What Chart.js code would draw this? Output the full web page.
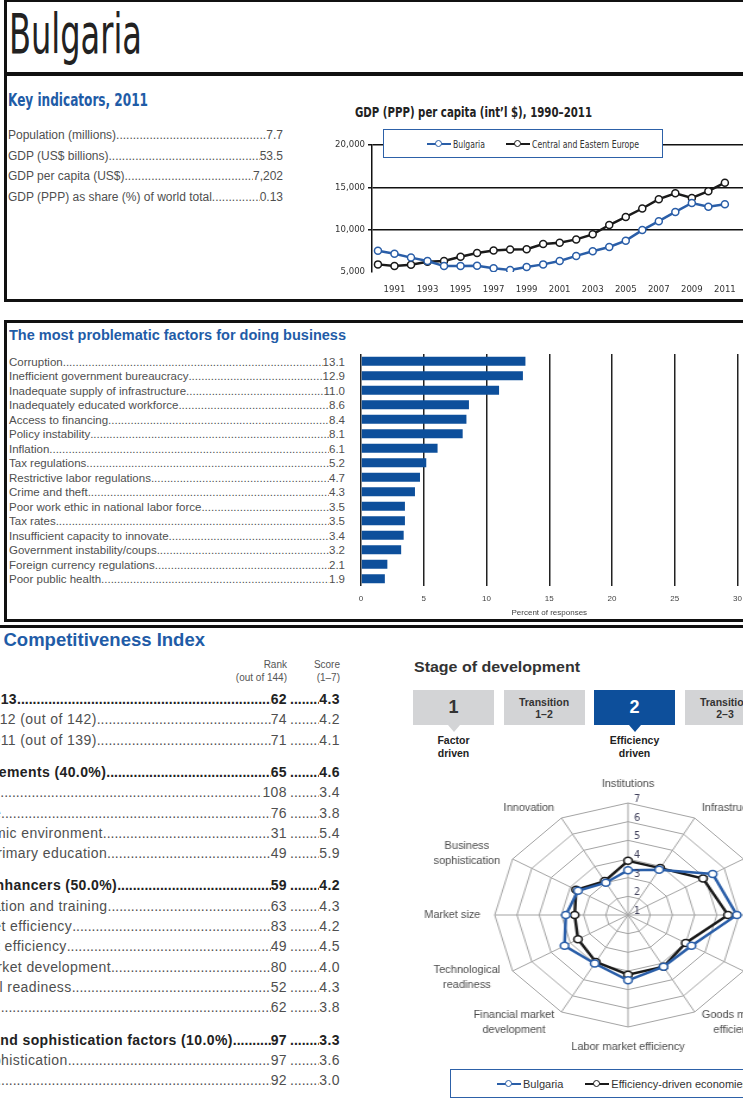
<!DOCTYPE html>
<html lang="en">
<head>
<meta charset="utf-8">
<title>Bulgaria</title>
<script src="https://cdn.jsdelivr.net/npm/chart.js@4.4.1/dist/chart.umd.min.js"></script>
<style>
  html, body { margin: 0; padding: 0; }
  body {
    position: relative; width: 743px; height: 1110px; overflow: hidden; background: #fff;
    font-family: "Liberation Sans", Arial, sans-serif; color: #4f4f4f;
  }
  .abs { position: absolute; }
  .narrow { font-family: "Liberation Sans Narrow", "DejaVu Sans Condensed", "Liberation Sans", sans-serif; }
  .fit { display: inline-block; white-space: nowrap; transform-origin: 0 50%; }
  .blue { color: #1f5ca7; font-weight: bold; }
  .frame { position: absolute; border: 3px solid #111; box-sizing: border-box; }
  .row { position: absolute; display: flex; align-items: baseline; white-space: nowrap; }
  .dots { flex: 1 1 0; min-width: 0; overflow: hidden; white-space: nowrap; letter-spacing: 0; }
  .legend { position: absolute; border: 1.5px solid #2d61a8; background: #fff; box-sizing: border-box;
            display: flex; align-items: center; white-space: nowrap; color: #333; z-index: 2; }
  .mk { display: inline-block; position: relative; width: 24px; height: 8px; margin-right: 2px; }
  .mk::before { content: ''; position: absolute; left: 0; right: 0; top: 3px; height: 2px; background: currentColor; }
  .mk::after { content: ''; position: absolute; left: 8px; top: 0; width: 5px; height: 5px;
               border: 1.5px solid currentColor; border-radius: 50%; background: #fff; }
  .stage { position: absolute; top: 690px; width: 81px; height: 35px; background: #d3d4d6; color: #333;
           display: flex; align-items: center; justify-content: center; text-align: center; font-weight: bold; }
  .tri { position: absolute; top: 725px; width: 0; height: 0;
         border-left: 6px solid transparent; border-right: 6px solid transparent; border-top: 7px solid #d3d4d6; }
  .stagename { position: absolute; top: 734px; width: 90px; text-align: center; font-weight: bold;
               font-size: 10.5px; line-height: 13px; color: #222; }
</style>
</head>
<body>

<!-- frames -->
<div class="frame" style="left:4px; top:-1px; width:800px; height:303px;"></div>
<div class="abs" style="left:5px; top:72px; width:800px; height:4px; background:#111;"></div>
<div class="frame" style="left:4px; top:320px; width:800px; height:302px;"></div>
<div class="abs" style="left:-10px; top:625px; width:800px; height:2.5px; background:#111;"></div>

<!-- country heading -->
<div class="abs" style="left:9px; top:6px; font-size:56px; line-height:56px; color:#222;">
  <span class="fit narrow" data-w="133">Bulgaria</span>
</div>

<div class="abs blue" style="left:8px; top:90px; font-size:17px; line-height:20px;">
  <span class="fit narrow" data-w="140">Key indicators, 2011</span>
</div>
<div id="keyRows"></div>

<!-- GDP chart -->
<div class="abs" style="left:355px; top:103px; font-size:14.5px; line-height:18px; color:#222; font-weight:bold;">
  <span class="fit narrow" data-w="237">GDP (PPP) per capita (int’l $), 1990–2011</span>
</div>
<div class="legend narrow" style="left:383px; top:129px; width:280px; height:29px; padding-left:43px; font-size:10.5px;">
  <span class="mk" style="color:#2a5ea8;"></span><span class="fit" data-w="32">Bulgaria</span>
  <span class="mk" style="color:#1a1a1a; margin-left:14px;"></span><span class="fit" data-w="107">Central and Eastern Europe</span>
</div>
<div class="abs" style="left:330px; top:135px; width:425px; height:175px;">
  <canvas id="gdpChart"></canvas>
</div>

<!-- problematic factors -->
<div class="abs blue" style="left:9px; top:326px; font-size:14.5px; line-height:18px;">
  <span class="fit" data-w="337">The most problematic factors for doing business</span>
</div>
<div id="factorRows"></div>
<div class="abs" style="left:350px; top:344px; width:400px; height:278px;">
  <canvas id="factorChart"></canvas>
</div>

<!-- GCI table -->
<div class="abs blue" style="right:538px; top:629px; font-size:18.5px; line-height:22px; white-space:nowrap;">
  The Global Competitiveness Index
</div>
<div class="abs" style="left:200px; top:658px; width:87px; text-align:right; font-size:10px; line-height:13px; color:#555;">
  Rank<br>(out of 144)
</div>
<div class="abs" style="left:300px; top:658px; width:40px; text-align:right; font-size:10px; line-height:13px; color:#555;">
  Score<br>(1–7)
</div>
<div id="gciRows"></div>

<!-- stage of development -->
<div class="abs" style="left:414px; top:657px; font-size:15px; line-height:20px; color:#333; font-weight:bold;">
  <span class="fit" data-w="166">Stage of development</span>
</div>
<div id="stages"></div>

<!-- pillar radar -->
<div class="abs" style="left:428px; top:765px; width:400px; height:300px; transform:scaleX(1.19); transform-origin:200px 150px;">
  <canvas id="pillarChart"></canvas>
</div>
<div class="legend" style="left:450px; top:1069px; width:400px; height:29px; padding-left:46px; font-size:11px;">
  <span class="mk" style="color:#2a5ea8;"></span><span>Bulgaria</span>
  <span class="mk" style="color:#1a1a1a; margin-left:22px;"></span><span>Efficiency-driven economies</span>
</div>

<script>
// Key indicators, 2011
const keyLabels = ['Population (millions)', 'GDP (US$ billions)', 'GDP per capita (US$)', 'GDP (PPP) as share (%) of world total'];
const keyValues = ['7.7', '53.5', '7,202', '0.13'];

// GDP (PPP) per capita, int'l $
const years = [1990, 1991, 1992, 1993, 1994, 1995, 1996, 1997, 1998, 1999, 2000,
               2001, 2002, 2003, 2004, 2005, 2006, 2007, 2008, 2009, 2010, 2011];
const bulgariaGdp = [7500, 7150, 6700, 6300, 5700, 5700, 5750, 5450, 5250, 5600, 5900,
                     6300, 6900, 7450, 7950, 8700, 9950, 11000, 12100, 13150, 12700, 13000];
const ceeGdp = [5900, 5700, 5850, 6200, 6300, 6800, 7250, 7550, 7650, 7700, 8300,
                8450, 8850, 9450, 10550, 11500, 12500, 13600, 14300, 13750, 14550, 15550];
const yearTicks = [1991, 1993, 1995, 1997, 1999, 2001, 2003, 2005, 2007, 2009, 2011];
const gdpTicks = [5000, 10000, 15000, 20000];

// Most problematic factors, percent of responses
const factorLabels = [
  'Corruption', 'Inefficient government bureaucracy', 'Inadequate supply of infrastructure',
  'Inadequately educated workforce', 'Access to financing', 'Policy instability', 'Inflation',
  'Tax regulations', 'Restrictive labor regulations', 'Crime and theft',
  'Poor work ethic in national labor force', 'Tax rates', 'Insufficient capacity to innovate',
  'Government instability/coups', 'Foreign currency regulations', 'Poor public health'
];
const factorValues = [13.1, 12.9, 11.0, 8.6, 8.4, 8.1, 6.1, 5.2, 4.7, 4.3, 3.5, 3.5, 3.4, 3.2, 2.1, 1.9];

// GCI table
const gciLabels = [
  'GCI 2012–2013', 'GCI 2011–2012 (out of 142)', 'GCI 2010–2011 (out of 139)',
  'Basic requirements (40.0%)', 'Institutions', 'Infrastructure', 'Macroeconomic environment',
  'Health and primary education',
  'Efficiency enhancers (50.0%)', 'Higher education and training', 'Goods market efficiency',
  'Labor market efficiency', 'Financial market development', 'Technological readiness', 'Market size',
  'Innovation and sophistication factors (10.0%)', 'Business sophistication', 'Innovation'
];
const gciRanks = ['62', '74', '71', '65', '108', '76', '31', '49', '59', '63', '83', '49', '80', '52', '62', '97', '97', '92'];
const gciScores = ['4.3', '4.2', '4.1', '4.6', '3.4', '3.8', '5.4', '5.9', '4.2', '4.3', '4.2', '4.5', '4.0', '4.3', '3.8', '3.3', '3.6', '3.0'];
const gciHeadRows = [0, 3, 8, 15];

// Stage of development
const stageLabels = [['1'], ['Transition', '1–2'], ['2'], ['Transition', '2–3']];
const stageNames = [['Factor', 'driven'], null, ['Efficiency', 'driven'], null];
const currentStage = 2;

// Pillar scores (1-7)
const pillarLabels = [
  ['Institutions'], ['Infrastructure'], ['Macroeconomic', 'environment'], ['Health and', 'primary education'],
  ['Higher education', 'and training'], ['Goods market', 'efficiency'], ['Labor market efficiency'],
  ['Financial market', 'development'], ['Technological', 'readiness'], ['Market size'],
  ['Business', 'sophistication'], ['Innovation']
];
const bulgariaPillars = [3.4, 3.8, 5.4, 5.9, 4.3, 4.2, 4.5, 4.0, 4.3, 3.8, 3.6, 3.0];
const efficiencyPillars = [3.9, 3.9, 4.9, 5.5, 4.0, 4.2, 4.2, 3.9, 3.6, 3.4, 3.7, 3.1];

const BLUE = '#2a5ea8';
const BLACK = '#1a1a1a';
const BAR = '#0d4f9b';
const NARROW = '"Liberation Sans Narrow", "DejaVu Sans Condensed", "Liberation Sans", sans-serif';
const STRETCH = 1.19;
const DOTS = '.'.repeat(300);

// Leader-dotted text row: label ..... value
function dottedRow(parent, opts) {
  const row = document.createElement('div');
  row.className = 'row';
  row.style.left = opts.left + 'px';
  row.style.width = opts.width + 'px';
  row.style.top = (opts.y - opts.lh / 2) + 'px';
  row.style.height = opts.lh + 'px';
  row.style.lineHeight = opts.lh + 'px';
  row.style.fontSize = opts.size + 'px';
  if (opts.spacing) row.style.letterSpacing = opts.spacing + 'px';
  if (opts.bold) { row.style.fontWeight = 'bold'; row.style.color = '#222'; }
  let html = `<span>${opts.label}</span><span class="dots">${DOTS}</span><span>${opts.value}</span>`;
  if (opts.score !== undefined) {
    html += `<span style="display:flex; width:53px; flex:0 0 53px;"><span class="dots" style="margin-left:3px;">${DOTS}</span><span>${opts.score}</span></span>`;
  }
  row.innerHTML = html;
  parent.appendChild(row);
}

const keyBox = document.getElementById('keyRows');
keyLabels.forEach((label, i) => {
  dottedRow(keyBox, { left: 8, width: 275, y: 135 + i * 20.5, lh: 16, size: 12, label, value: keyValues[i] });
});

const factorBox = document.getElementById('factorRows');
factorLabels.forEach((label, i) => {
  dottedRow(factorBox, { left: 9, width: 336, y: 362 + i * 14.47, lh: 14, size: 11.5, label, value: factorValues[i].toFixed(1) });
});

const gciBox = document.getElementById('gciRows');
let gciY = 699;
gciLabels.forEach((label, i) => {
  if (i > 0 && gciHeadRows.includes(i)) gciY += 12;
  dottedRow(gciBox, {
    left: -87, width: 427, y: gciY, lh: 18, size: 14, spacing: 0.4, bold: gciHeadRows.includes(i),
    label, value: gciRanks[i], score: gciScores[i]
  });
  gciY += 20.3;
});

// Stage boxes with pointer under the first and current stage
const stageBox = document.getElementById('stages');
stageLabels.forEach((lines, i) => {
  const x = 413 + i * 90.5;
  const box = document.createElement('div');
  box.className = 'stage';
  box.style.left = x + 'px';
  if (lines.length === 1) {
    box.style.fontSize = '18px';
  } else {
    box.style.fontSize = '10.5px';
    box.style.lineHeight = '12px';
  }
  if (i === currentStage) { box.style.background = BAR; box.style.color = '#fff'; }
  box.innerHTML = lines.join('<br>');
  stageBox.appendChild(box);
  if (stageNames[i]) {
    const tri = document.createElement('div');
    tri.className = 'tri';
    tri.style.left = (x + 34.5) + 'px';
    if (i === currentStage) tri.style.borderTopColor = BAR;
    stageBox.appendChild(tri);
    const name = document.createElement('div');
    name.className = 'stagename';
    name.style.left = (x - 4.5) + 'px';
    name.innerHTML = stageNames[i].join('<br>');
    stageBox.appendChild(name);
  }
});

// Squeeze condensed headings to their widths
document.querySelectorAll('[data-w]').forEach(el => {
  const w = el.getBoundingClientRect().width;
  if (w > 0) el.style.transform = 'scaleX(' + (parseFloat(el.dataset.w) / w) + ')';
});

Chart.defaults.font.family = NARROW;
Chart.defaults.animation = false;

// GDP per capita lines
new Chart(document.getElementById('gdpChart'), {
  type: 'line',
  data: {
    datasets: [
      {
        label: 'Bulgaria',
        data: years.map((y, i) => ({ x: y, y: bulgariaGdp[i] })),
        borderColor: BLUE, borderWidth: 2.5,
        pointRadius: 3.5, pointBorderWidth: 1.5, pointBackgroundColor: '#fff', pointBorderColor: BLUE
      },
      {
        label: 'Central and Eastern Europe',
        data: years.map((y, i) => ({ x: y, y: ceeGdp[i] })),
        borderColor: BLACK, borderWidth: 2.5,
        pointRadius: 3.5, pointBorderWidth: 1.5, pointBackgroundColor: '#fff', pointBorderColor: BLACK
      }
    ]
  },
  options: {
    responsive: true,
    maintainAspectRatio: false,
    devicePixelRatio: 1,
    layout: { padding: { top: 10, left: 0, right: 0, bottom: 0 } },
    scales: {
      x: {
        type: 'linear', min: 1989.64, max: 2012.49,
        afterBuildTicks: (s) => { s.ticks = yearTicks.map(v => ({ value: v })); },
        afterFit: (s) => { s.height = 38; },
        ticks: { callback: (v) => String(v), font: { size: 9.5 }, color: '#333', padding: 4, maxRotation: 0, autoSkip: false },
        grid: { display: false },
        border: { display: false }
      },
      y: {
        min: 5000, max: 20000,
        afterBuildTicks: (s) => { s.ticks = gdpTicks.map(v => ({ value: v })); },
        afterFit: (s) => { s.width = 42; },
        ticks: { callback: (v) => v.toLocaleString('en-US'), font: { size: 9.5 }, color: '#333', padding: 3 },
        grid: {
          color: (c) => (c.tick && c.tick.value === 5000 ? 'rgba(0,0,0,0)' : '#111'),
          lineWidth: 1.5, tickLength: 4
        },
        border: { color: '#111', width: 1.5 }
      }
    },
    plugins: { legend: { display: false }, tooltip: { enabled: false } }
  }
});

// Problematic factors bars
new Chart(document.getElementById('factorChart'), {
  type: 'bar',
  data: {
    labels: factorLabels,
    datasets: [{ data: factorValues, backgroundColor: BAR, barPercentage: 0.62, categoryPercentage: 1 }]
  },
  options: {
    indexAxis: 'y',
    responsive: true,
    maintainAspectRatio: false,
    devicePixelRatio: 1,
    layout: { padding: { left: 11, right: 12, top: 10, bottom: 0 } },
    scales: {
      x: {
        min: 0, max: 30,
        ticks: { stepSize: 5, font: { size: 8, family: '"Liberation Sans", sans-serif' }, color: '#444', padding: 8 },
        grid: { color: '#222', lineWidth: 1.5, drawTicks: false },
        border: { display: false },
        title: { display: true, text: 'Percent of responses', font: { size: 8, family: '"Liberation Sans", sans-serif' }, color: '#444' },
        afterFit: (s) => { s.height = 36; }
      },
      y: { display: false }
    },
    plugins: { legend: { display: false }, tooltip: { enabled: false } }
  }
});

// Radar labels drawn un-stretched (the canvas is widened with CSS)
const radarText = {
  id: 'radarText',
  afterDraw(chart) {
    const r = chart.scales.r;
    const ctx = chart.ctx;
    const n = pillarLabels.length;
    ctx.save();
    ctx.textBaseline = 'middle';

    ctx.fillStyle = '#3d3d58';
    ctx.font = '11px ' + NARROW;
    r.ticks.forEach(t => {
      const p = r.getPointPositionForValue(0, t.value);
      ctx.save();
      ctx.translate(p.x + 6 / STRETCH, p.y - 4);
      ctx.scale(1 / STRETCH, 1);
      ctx.textAlign = 'left';
      ctx.fillText(String(t.value), 0, 0);
      ctx.restore();
    });

    ctx.fillStyle = '#4b4b4b';
    ctx.font = '11px "Liberation Sans", sans-serif';
    const lh = 15;
    pillarLabels.forEach((lines, i) => {
      const p = r.getPointPosition(i, r.drawingArea + 12);
      const side = (i === 0 || i === n / 2) ? 0 : (i < n / 2 ? 1 : -1);
      const blockW = Math.max(...lines.map(l => ctx.measureText(l).width));
      const cx = side * blockW / 2;
      let top = -lines.length * lh / 2;
      if (i === 0) top = -lines.length * lh;
      if (i === n / 2) top = 0;
      ctx.save();
      ctx.translate(p.x, p.y);
      ctx.scale(1 / STRETCH, 1);
      ctx.textAlign = 'center';
      lines.forEach((l, k) => ctx.fillText(l, cx, top + lh * (k + 0.5)));
      ctx.restore();
    });
    ctx.restore();
  }
};

new Chart(document.getElementById('pillarChart'), {
  type: 'radar',
  data: {
    labels: pillarLabels.map(l => l.join(' ')),
    datasets: [
      {
        label: 'Bulgaria', data: bulgariaPillars, fill: false,
        borderColor: BLUE, borderWidth: 2.5,
        pointRadius: 3.5, pointBorderWidth: 1.5, pointBackgroundColor: '#fff', pointBorderColor: BLUE
      },
      {
        label: 'Efficiency-driven economies', data: efficiencyPillars, fill: false,
        borderColor: BLACK, borderWidth: 2.5,
        pointRadius: 3.5, pointBorderWidth: 1.5, pointBackgroundColor: '#fff', pointBorderColor: BLACK
      }
    ]
  },
  options: {
    responsive: true,
    maintainAspectRatio: false,
    devicePixelRatio: 1,
    layout: { padding: { top: 38, bottom: 38, left: 88, right: 88 } },
    scales: {
      r: {
        min: 1, max: 7, startAngle: 0,
        ticks: { display: false, stepSize: 1 },
        pointLabels: { display: false },
        grid: { circular: false, color: '#a3a3a3', lineWidth: 1 },
        angleLines: { color: '#a3a3a3', lineWidth: 1 }
      }
    },
    plugins: { legend: { display: false }, tooltip: { enabled: false } }
  },
  plugins: [radarText]
});
</script>
</body>
</html>
